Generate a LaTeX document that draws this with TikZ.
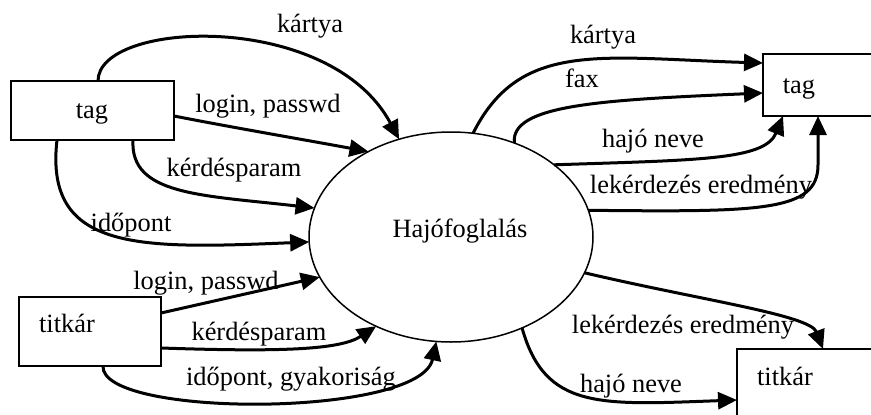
\documentclass[tikz,border=0pt]{standalone}
\usepackage{fontspec}
\setmainfont{Liberation Serif}
\usetikzlibrary{arrows.meta,calc,shapes.geometric}
\begin{document}
\begin{tikzpicture}[x=1pt,y=-1pt,
  box/.style={draw,line width=2pt,rectangle,inner sep=0pt,outer sep=0pt},
  flow/.style={line width=3pt,-{Triangle[length=19pt,width=17pt]}},
  lbl/.style={anchor=base,inner sep=0pt,font=\fontsize{26.4}{30}\selectfont}]
\useasboundingbox (0,0) rectangle (871,415);
\clip (0,0) rectangle (871,415);
\fill[white] (0,0) rectangle (871,415);
% process
\node[draw,ellipse,line width=1.5pt,minimum width=284pt,minimum height=210pt,inner sep=0pt,outer sep=0pt] (hf) at (451,237) {};
\node[lbl] (hft) at (460,237) {Hajófoglalás};
% boxes
\node[box,minimum width=163pt,minimum height=59pt] (tagL) at (92.5,110.5) {};
\node[lbl] (tagLt) at (92,118) {tag};
\node[box,minimum width=142pt,minimum height=69pt] (titL) at (90,331.5) {};
\node[lbl] (titLt) at (67,332) {titkár};
\node[box,minimum width=137pt,minimum height=62pt] (tagR) at (831.5,85) {};
\node[lbl] (tagRt) at (799,93) {tag};
\node[box,minimum width=163pt,minimum height=91pt] (titR) at (818.5,394.5) {};
\node[lbl] (titRt) at (785,385) {titkár};
% left inputs from tag
\draw[flow] ($(tagL.north west)+(87,0)$) .. controls (98,20) and (330,10) .. (hf.118);
\draw[flow] ($(tagL.north east)+(0,35)$) .. controls (230,127) and (300,139) .. (hf.134.7);
\draw[flow] ($(tagL.south west)+(122,0)$) .. controls (130,195) and (200,195) .. (hf.168);
\draw[flow] ($(tagL.south west)+(46,0)$) .. controls (44,252) and (140,249) .. (hf.182.4);
% left inputs from titkar
\draw[flow] ($(titL.north east)+(0,16)$) -- (hf.197.8);
\draw[flow] ($(titL.north east)+(0,51)$) .. controls (280,352) and (340,350) .. (hf.230.7);
\draw[flow] ($(titL.south west)+(84,0)$) .. controls (100,418) and (420,418) .. (hf.262.8);
% right outputs to tag
\draw[flow] (hf.78.7) .. controls (520,40) and (600,58) .. ($(tagR.north west)+(0,9)$);
\draw[flow] (hf.56.9) .. controls (510,105) and (600,100) .. ($(tagR.north west)+(0,39)$);
\draw[flow] (hf.35.2) .. controls (700,160) and (765,160) .. ($(tagR.south west)+(20,0)$);
\draw[flow] (hf.11.2) .. controls (760,212) and (818,212) .. (818,165) -- ($(tagR.south west)+(55,0)$);
% right outputs to titkar
\draw[flow] (hf.-15) .. controls (700,300) and (810,315) .. ($(titR.north west)+(86,0)$);
\draw[flow] (hf.-52.5) .. controls (545,410) and (600,405) .. ($(titR.north west)+(0,51)$);
% labels
\node[lbl] (l1) at (310,32) {kártya};
\node[lbl] (l2) at (268,112) {login, passwd};
\node[lbl] (l3) at (234,176) {kérdésparam};
\node[lbl] (l4) at (131,231) {időpont};
\node[lbl] (l5) at (206,289) {login, passwd};
\node[lbl] (l6) at (259,340) {kérdésparam};
\node[lbl] (l7) at (291,385) {időpont, gyakoriság};
\node[lbl] (r1) at (603,43) {kártya};
\node[lbl] (r2) at (582,87) {fax};
\node[lbl] (r3) at (653,147) {hajó neve};
\node[lbl] (r4) at (701,193) {lekérdezés eredmény};
\node[lbl] (r5) at (683,333) {lekérdezés eredmény};
\node[lbl] (r6) at (631,392) {hajó neve};
\end{tikzpicture}
\end{document}
